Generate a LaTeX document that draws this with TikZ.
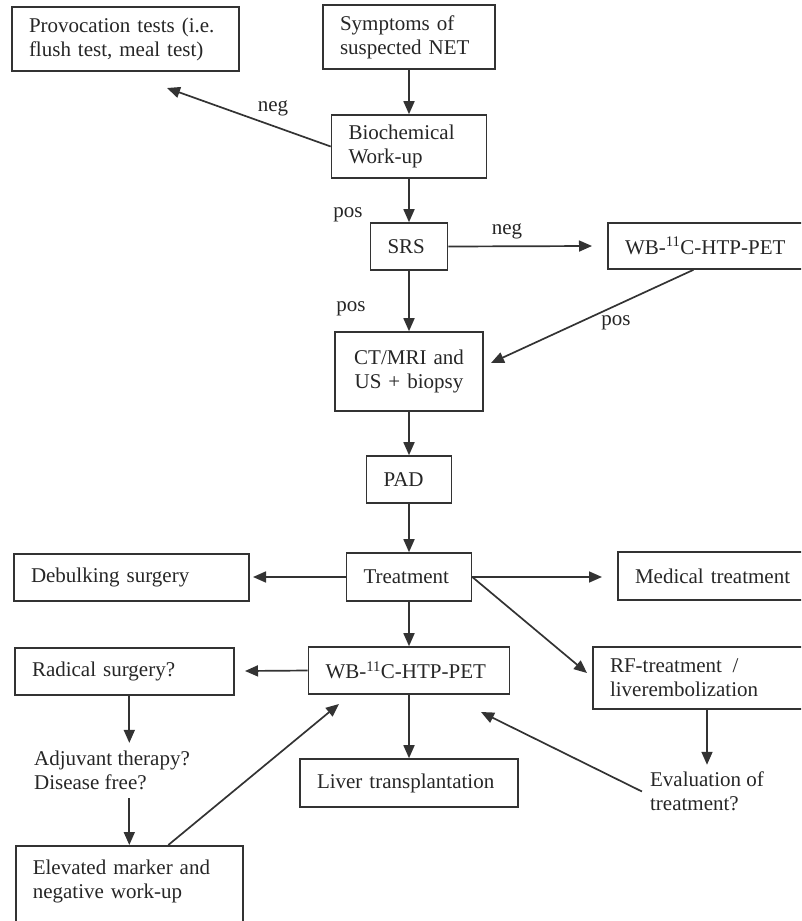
\documentclass[tikz,border=0pt]{standalone}
\usepackage{fontspec}
\setmainfont{Liberation Serif}
\usetikzlibrary{arrows.meta}

\begin{document}
\begin{tikzpicture}[x=1pt,y=-1pt,
  box/.style={draw=black!80, line width=1.6pt, inner xsep=17pt, inner ysep=0pt, align=left, text=black!85},
  txt/.style={inner sep=0pt, align=left, text=black!85},
  arr/.style={draw=black!80, line width=1.7pt, -{Triangle[length=13pt,width=11pt]}},
  font=\fontsize{21}{24}\selectfont]
 	\useasboundingbox (0,0) rectangle (801,921);
 	\clip (0,0) rectangle (801,921);
 	% boxes
 	\node[box, text width=193pt, minimum height=64pt] (prov) at (125.5,39) {Provocation tests (i.e.\\flush test, meal test)};
 	\node[box, text width=138pt, minimum height=64pt] (symp) at (409,37) {Symptoms of\\suspected NET};
 	\node[box, text width=121pt, minimum height=63pt] (bio) at (409,146.5) {Biochemical\\Work-up};
 	\node[box, text width=43pt, minimum height=47pt] (srs) at (409,246.5) {SRS};
 	\node[box, text width=173pt, minimum height=46pt] (wbtop) at (711.5,246) {WB-\textsuperscript{11}C-HTP-PET};
 	\node[box, text width=114pt, minimum height=79pt, align=center] (ct) at (409,371.5) {CT/MRI and\\US + biopsy};
 	\node[box, text width=51pt, minimum height=47pt] (pad) at (409,479.5) {PAD};
 	\node[box, text width=91pt, minimum height=48pt] (treat) at (409,577) {Treatment};
 	\node[box, text width=201pt, minimum height=47pt] (debulk) at (131.5,577.5) {Debulking surgery};
 	\node[box, text width=163pt, minimum height=48pt] (medical) at (716.5,576) {Medical treatment};
 	\node[box, text width=167pt, minimum height=47pt] (pet) at (409,670.5) {WB-\textsuperscript{11}C-HTP-PET};
 	\node[box, text width=185pt, minimum height=47pt] (radical) at (124.5,671.5) {Radical surgery?};
 	\node[box, text width=188pt, minimum height=62pt] (rf) at (704,678) {RF-treatment\enspace/\\liverembolization};
 	\node[box, text width=184pt, minimum height=48pt] (liver) at (409,783) {Liver transplantation};
 	\node[box, text width=193pt, inner ysep=14pt, text depth=60pt, anchor=north west] (elev) at (15,845) {Elevated marker and\\negative work-up};
 	\node[txt, inner ysep=8pt] (adjuv) at (112,770.5) {Adjuvant therapy?\\Disease free?};
 	\node[txt, inner xsep=8pt, inner ysep=7pt] (eval) at (707,791.5) {Evaluation of\\treatment?};
 	% labels
 	\node[txt] (neg1) at (273,108) {neg};
 	\node[txt] (pos1) at (348,215) {pos};
 	\node[txt] (neg2) at (507,231) {neg};
 	\node[txt] (pos2) at (351,309) {pos};
 	\node[txt] (pos3) at (616,323) {pos};
 	% free arrow ends
 	\coordinate (provtip) at (167,88);
 	\coordinate (wbtip) at (592,246);
 	\coordinate (cttip) at (491,363);
 	\coordinate (debtip) at (253,577);
 	\coordinate (medtip) at (602,577);
 	\coordinate (rftip) at (587,673);
 	\coordinate (radtip) at (245,671);
 	\coordinate (elevtip) at (339,704);
 	\coordinate (evaltip) at (481,712);
 	% arrows
 	\draw[arr] (symp) -- (bio);
 	\draw[arr] (bio.west) -- (provtip);
 	\draw[arr] (bio) -- (srs);
 	\draw[arr] (srs.east) -- (wbtip);
 	\draw[arr] (srs) -- (ct);
 	\draw[arr] ([xshift=-18pt]wbtop.south) -- (cttip);
 	\draw[arr] (ct) -- (pad);
 	\draw[arr] (pad) -- (treat);
 	\draw[arr] (treat.west) -- (debtip);
 	\draw[arr] (treat.east) -- (medtip);
 	\draw[arr] (treat.east) -- (rftip);
 	\draw[arr] (treat) -- (pet);
 	\draw[arr] (pet.west) -- (radtip);
 	\draw[arr] (pet) -- (liver);
 	\draw[arr] (radical.south -| elev.north) -- (adjuv.north -| elev.north);
 	\draw[arr] (adjuv.south -| elev.north) -- (elev.north);
 	\draw[arr] ([xshift=39pt]elev.north) -- (elevtip);
 	\draw[arr] (rf.south -| eval) -- (eval.north);
 	\draw[arr] (eval.west) -- (evaltip);
\end{tikzpicture}
\end{document}
